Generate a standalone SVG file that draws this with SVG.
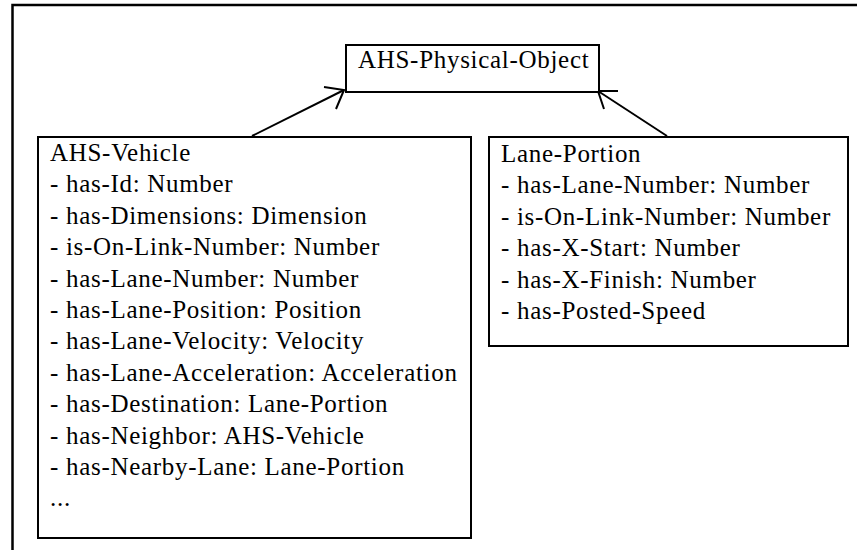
<svg xmlns="http://www.w3.org/2000/svg" width="857" height="550" viewBox="0 0 857 550">
<style>
  .box { fill: #fff; stroke: #000; stroke-width: 2; }
  .frame { fill: none; stroke: #000; stroke-width: 2.5; }
  .conn { fill: none; stroke: #000; stroke-width: 2; stroke-linejoin: miter; }
  text { font-family: "Liberation Serif", "Times New Roman", serif; font-size: 25px; fill: #000; letter-spacing: 0.7px; }
</style>
<rect width="857" height="550" fill="#fff"/>
<path class="frame" d="M12.5 550 V5 H857"/>
<g id="connectors">
  <line class="conn" x1="252" y1="136" x2="344" y2="90"/>
  <polyline class="conn" points="324,87 344,90 336,109"/>
  <line class="conn" x1="667" y1="136" x2="598" y2="91"/>
  <polyline class="conn" points="618,91 598,91 604,109"/>
</g>
<g id="ahs-physical-object">
  <rect class="box" x="346" y="45" width="253" height="47"/>
  <text x="358" y="68">AHS-Physical-Object</text>
</g>
<g id="ahs-vehicle">
  <rect class="box" x="38" y="137" width="433" height="401"/>
  <text x="50" y="161">AHS-Vehicle</text>
  <text x="50" y="192.4">- has-Id: Number</text>
  <text x="50" y="223.8">- has-Dimensions: Dimension</text>
  <text x="50" y="255.2">- is-On-Link-Number: Number</text>
  <text x="50" y="286.6">- has-Lane-Number: Number</text>
  <text x="50" y="318">- has-Lane-Position: Position</text>
  <text x="50" y="349.4">- has-Lane-Velocity: Velocity</text>
  <text x="50" y="380.8">- has-Lane-Acceleration: Acceleration</text>
  <text x="50" y="412.2">- has-Destination: Lane-Portion</text>
  <text x="50" y="443.6">- has-Neighbor: AHS-Vehicle</text>
  <text x="50" y="475">- has-Nearby-Lane: Lane-Portion</text>
  <text x="50" y="506.4">...</text>
</g>
<g id="lane-portion">
  <rect class="box" x="489" y="137" width="359" height="209"/>
  <text x="501" y="161.5">Lane-Portion</text>
  <text x="501" y="193">- has-Lane-Number: Number</text>
  <text x="501" y="224.5">- is-On-Link-Number: Number</text>
  <text x="501" y="256">- has-X-Start: Number</text>
  <text x="501" y="287.5">- has-X-Finish: Number</text>
  <text x="501" y="319">- has-Posted-Speed</text>
</g>
</svg>
